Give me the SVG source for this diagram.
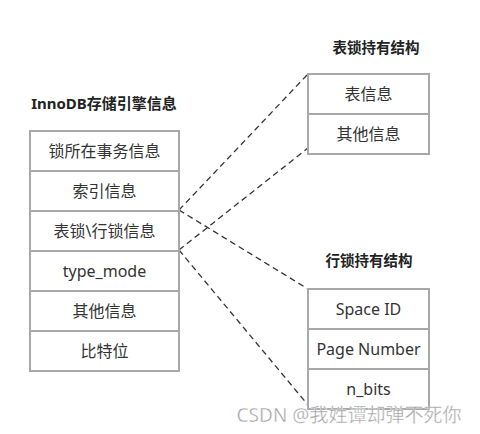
<svg xmlns="http://www.w3.org/2000/svg" width="480" height="434" viewBox="0 0 480 434">
<style>
.box{fill:#fff;stroke:#a8a8a8;stroke-width:2}
.t{font-family:"Noto Sans","Noto Sans CJK SC",sans-serif;font-size:16px;fill:#333;text-anchor:middle;dominant-baseline:central}
.h{font-family:"Noto Sans","Noto Sans CJK SC",sans-serif;font-size:14.5px;font-weight:bold;fill:#222;text-anchor:middle;dominant-baseline:central}
.c{fill:none;stroke:#333;stroke-width:1.3;stroke-dasharray:6 4}
.wm{font-family:"Noto Sans","Noto Sans CJK SC",sans-serif;font-size:19px;fill:#a0a0a0;stroke:#fff;stroke-width:0.4;text-anchor:middle;dominant-baseline:central}
</style>
<rect width="480" height="434" fill="#fff"/>
<g id="connectors">
<line class="c" x1="179" y1="210" x2="308" y2="74"/>
<line class="c" x1="179" y1="250" x2="308" y2="148"/>
<line class="c" x1="179" y1="210" x2="308" y2="289"/>
<line class="c" x1="179" y1="250" x2="308" y2="405"/>
</g>
<g id="innodb">
<text class="h" x="104" y="103" style="font-size:15px">InnoDB存储引擎信息</text>
<rect class="box" x="30" y="131" width="149" height="40"/>
<rect class="box" x="30" y="171" width="149" height="40"/>
<rect class="box" x="30" y="211" width="149" height="40"/>
<rect class="box" x="30" y="251" width="149" height="40"/>
<rect class="box" x="30" y="291" width="149" height="40"/>
<rect class="box" x="30" y="331" width="149" height="40"/>
<text class="t" x="104.5" y="151">锁所在事务信息</text>
<text class="t" x="104.5" y="191">索引信息</text>
<text class="t" x="104.5" y="231">表锁\行锁信息</text>
<text class="t" x="104.5" y="271">type_mode</text>
<text class="t" x="104.5" y="311">其他信息</text>
<text class="t" x="104.5" y="351">比特位</text>
</g>
<g id="table-lock">
<text class="h" x="376" y="47">表锁持有结构</text>
<rect class="box" x="308" y="74" width="121" height="40"/>
<rect class="box" x="308" y="114" width="121" height="40"/>
<text class="t" x="368.5" y="94">表信息</text>
<text class="t" x="368.5" y="134">其他信息</text>
</g>
<g id="row-lock">
<text class="h" x="369" y="260">行锁持有结构</text>
<rect class="box" x="308" y="289" width="121" height="40"/>
<rect class="box" x="308" y="329" width="121" height="40"/>
<rect class="box" x="308" y="369" width="121" height="40"/>
<text class="t" x="368.5" y="309">Space ID</text>
<text class="t" x="368.5" y="349">Page Number</text>
<text class="t" x="368.5" y="389">n_bits</text>
</g>
<text class="wm" x="349" y="415">CSDN @我姓谭却弹不死你</text>
</svg>
